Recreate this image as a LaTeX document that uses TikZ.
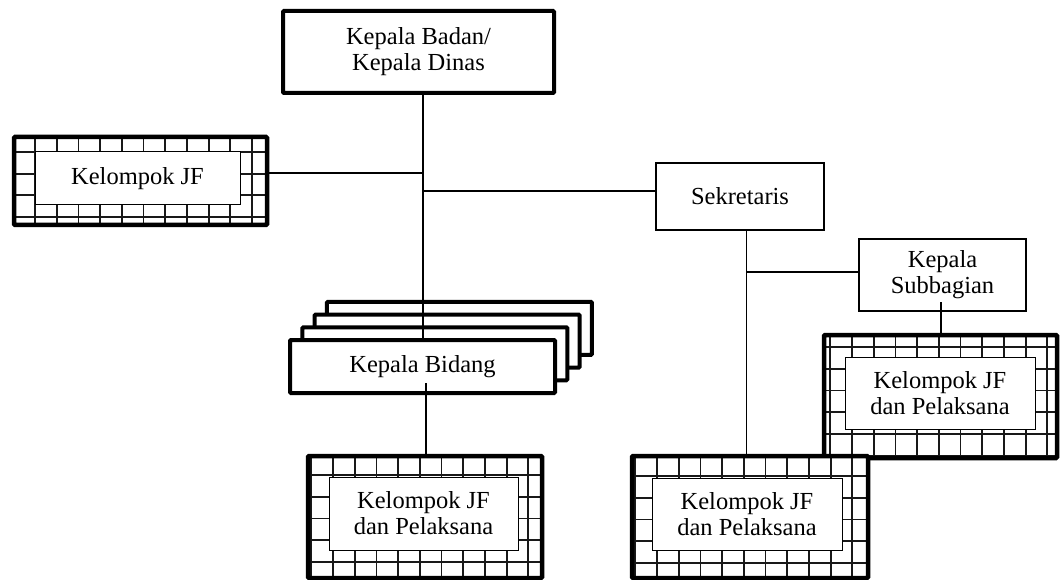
\documentclass[tikz,border=0pt]{standalone}
\usepackage{fontspec}
\setmainfont{Liberation Serif}
\tikzset{
  every node/.style={font=\fontsize{24.5}{26}\selectfont},
  thickbox/.style={draw, line width=4pt, fill=white, inner sep=0pt, outer sep=0pt, align=center, rounded corners=1pt},
  thinbox/.style={draw, line width=2pt, fill=white, inner sep=0pt, outer sep=0pt, align=center},
  textbox/.style={draw, line width=1pt, fill=white, inner sep=0pt, outer sep=0pt, align=center},
  gridborder/.style={draw, line width=4.5pt, rounded corners=1pt},
  gridline/.style={line width=1.8pt, black!90},
  conn/.style={line width=1.5pt},
  gridbg/.style 2 args={fill=white, inner sep=0pt, outer sep=0pt, path picture={
    \foreach \k in {0,...,13}{
      \draw[gridline] ([xshift=#1+(\k-1)*21.7pt]path picture bounding box.south west) -- ([xshift=#1+(\k-1)*21.7pt]path picture bounding box.north west);}
    \foreach \k in {0,...,7}{
      \draw[gridline] ([yshift=-#2-(\k-1)*21.7pt]path picture bounding box.north west) -- ([yshift=-#2-(\k-1)*21.7pt]path picture bounding box.north east);}
  }}
}
\begin{document}
\begin{tikzpicture}[x=1pt, y=-1pt]
\useasboundingbox[fill=white] (0,0) rectangle (1060,580);

% Kepala Bidang stack
\foreach \k in {3,2,1}
  \node[thickbox, minimum width=265pt, minimum height=53pt] (kbb\k) at ({422.5+12.3*\k},{366.5-12.7*\k}) {};
\node[thickbox, minimum width=265pt, minimum height=53pt] (kb) at (422.5,366.5) {Kepala Bidang};

% top
\node[thickbox, minimum width=271pt, minimum height=82pt] (top) at (418.5,52) {Kepala Badan/\\Kepala Dinas};

% Sekretaris and Kepala Subbagian
\node[thinbox, minimum width=168pt, minimum height=67pt] (sek) at (740,196.5) {Sekretaris};
\node[thinbox, minimum width=167pt, minimum height=72pt] (ksub) at (942.5,275) {Kepala\\Subbagian};

% grid box left
\node[gridbg={21pt}{15pt}, minimum width=253pt, minimum height=88pt] (g1) at (140.5,181) {};
\draw[gridborder] (g1.south west) rectangle (g1.north east);
\node[textbox, minimum width=205pt, minimum height=53pt] (t1) at (137.5,178.5) {Kelompok JF};

% grid box right
\node[gridbg={28pt}{12pt}, minimum width=233pt, minimum height=123pt] (g3) at (940.5,396.5) {};
\draw[gridborder] (g3.south west) rectangle (g3.north east);
\node[textbox, minimum width=190pt, minimum height=72pt] (t3) at (940,393) {Kelompok JF\\dan Pelaksana};

% grid box bottom right
\node[gridbg={25pt}{20pt}, minimum width=236pt, minimum height=122pt] (g4) at (750,517) {};
\draw[gridborder] (g4.south west) rectangle (g4.north east);
\node[textbox, minimum width=190pt, minimum height=72pt] (t4) at (747,514) {Kelompok JF\\dan Pelaksana};

% grid box bottom middle
\node[gridbg={25pt}{19pt}, minimum width=234pt, minimum height=122pt] (g2) at (425,517) {};
\draw[gridborder] (g2.south west) rectangle (g2.north east);
\node[textbox, minimum width=189pt, minimum height=73pt] (t2) at (423.5,513.5) {Kelompok JF\\dan Pelaksana};

% connectors
\coordinate (j1) at (423,173);
\coordinate (j2) at (423,191);
\coordinate (j3) at (746.5,272);
\coordinate (j4) at (941,302);
\coordinate (j5) at (426,383);
\draw[conn] (top.south -| j1) -- (kb.north -| j1);
\draw[conn] (g1.east |- j1) -- (j1);
\draw[conn] (j2) -- (sek.west |- j2);
\draw[conn] (sek.south -| j3) -- (g4.north -| j3);
\draw[conn] (j3) -- (ksub.west |- j3);
\draw[conn] (j4) -- (g3.north -| j4);
\draw[conn] (j5) -- (g2.north -| j5);
\end{tikzpicture}
\end{document}
